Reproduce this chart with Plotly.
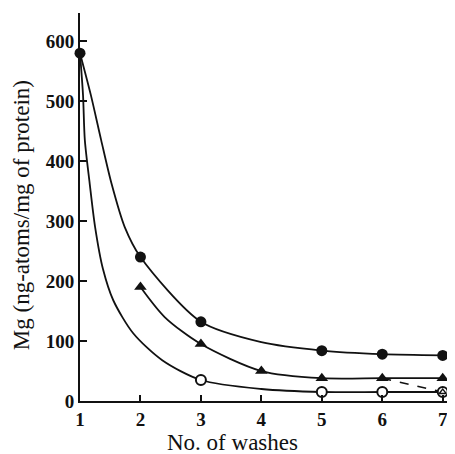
import plotly.graph_objects as go

# Measured points (markers)
wash_filled = [1, 2, 3, 5, 6, 7]
mg_filled = [580, 240, 132, 84, 78, 76]

wash_tri = [2, 3, 4, 5, 6, 7]
mg_tri = [190, 95, 50, 38, 38, 38]

wash_open = [3, 5, 6, 7]
mg_open = [35, 15, 15, 15]

wash_open_tri = [7]
mg_open_tri = [15]

# Drawn (hand-fitted) curves
curve_top_x = [1, 1.18, 1.35, 1.52, 1.74, 2, 3, 4, 5, 6, 7]
curve_top_y = [580, 510, 435, 363, 290, 240, 132, 98, 84, 78, 76]

curve_mid_x = [2, 2.4, 3, 4, 5, 6, 7]
curve_mid_y = [190, 140, 95, 50, 38, 38, 38]

curve_low_x = [1, 1.05, 1.08, 1.16, 1.25, 1.38, 1.55, 1.88, 2.36, 3, 4, 5, 6, 7]
curve_low_y = [580, 510, 435, 363, 290, 220, 168, 113, 68, 35, 20, 15, 15, 15]

dash_x = [6, 7]
dash_y = [38, 15]

x_ticks = [1, 2, 3, 4, 5, 6, 7]
y_ticks = [0, 100, 200, 300, 400, 500, 600]

x_title = "No. of washes"
y_title = "Mg (ng-atoms/mg of protein)"

BLACK = "#111111"
fig = go.Figure()

for cx, cy in [(curve_top_x, curve_top_y), (curve_mid_x, curve_mid_y), (curve_low_x, curve_low_y)]:
    fig.add_trace(go.Scatter(x=cx, y=cy, mode="lines",
                             line=dict(color=BLACK, width=1.8, shape="spline", smoothing=0.8),
                             hoverinfo="skip", showlegend=False, cliponaxis=False))

fig.add_trace(go.Scatter(x=dash_x, y=dash_y, mode="lines",
                         line=dict(color=BLACK, width=1.6, dash="dash"),
                         showlegend=False, cliponaxis=False))

fig.add_trace(go.Scatter(x=wash_filled, y=mg_filled, mode="markers",
                         marker=dict(symbol="circle", size=11, color=BLACK),
                         showlegend=False, cliponaxis=False))
fig.add_trace(go.Scatter(x=wash_tri, y=mg_tri, mode="markers",
                         marker=dict(symbol="triangle-up", size=11, color=BLACK),
                         showlegend=False, cliponaxis=False))
fig.add_trace(go.Scatter(x=wash_open, y=mg_open, mode="markers",
                         marker=dict(symbol="circle", size=10, color="white",
                                     line=dict(color=BLACK, width=2)),
                         showlegend=False, cliponaxis=False))
fig.add_trace(go.Scatter(x=wash_open_tri, y=mg_open_tri, mode="markers",
                         marker=dict(symbol="triangle-up-open", size=6, color=BLACK,
                                     line=dict(color=BLACK, width=1.3)),
                         showlegend=False, cliponaxis=False))

tick_font = dict(family="Liberation Serif", size=19, color=BLACK, weight="bold")
title_font = dict(family="Liberation Serif", size=23, color=BLACK)
# page body has an 8px margin, so the figure is sized/offset to compensate
fig.update_layout(
    width=447, height=446,
    margin=dict(l=72, r=2, t=5, b=53),
    paper_bgcolor="white", plot_bgcolor="white",
    font=dict(family="Liberation Serif", color=BLACK),
    xaxis=dict(range=[1, 7.17], tickvals=x_ticks,
               ticks="inside", ticklen=6, tickwidth=1.5, tickcolor=BLACK,
               showline=True, linewidth=2, linecolor=BLACK, showgrid=False, zeroline=False,
               tickfont=tick_font, automargin=False),
    yaxis=dict(range=[0, 647], tickvals=y_ticks,
               ticks="inside", ticklen=7, tickwidth=1.5, tickcolor=BLACK,
               showline=True, linewidth=2, linecolor=BLACK, showgrid=False, zeroline=False,
               tickfont=tick_font, automargin=False),
    annotations=[
        dict(text=x_title, xref="paper", yref="paper", x=0.41, y=-0.108,
             xanchor="center", yanchor="middle", showarrow=False, font=title_font),
        dict(text=y_title, xref="paper", yref="paper", x=-0.158, y=0.479, textangle=-90,
             xanchor="center", yanchor="middle", showarrow=False, font=title_font),
    ],
)

fig.write_html("out.html")
